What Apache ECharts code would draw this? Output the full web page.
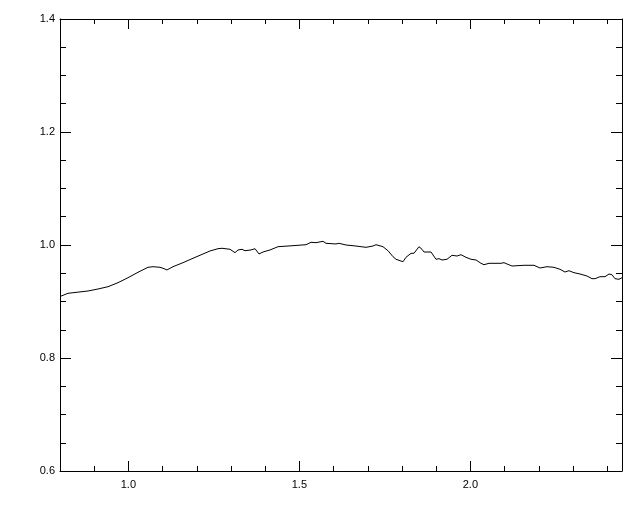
<!DOCTYPE html>
<html>
<head>
<meta charset="utf-8">
<script src="https://cdn.jsdelivr.net/npm/echarts@6/dist/echarts.min.js"></script>
<style>html,body{margin:0;padding:0;background:#fff}#c{width:640px;height:512px}</style>
</head>
<body>
<div id="c"></div>
<script>
const wavelength = [0.8,0.8234,0.8819,0.9111,0.9404,0.9696,0.9988,1.0281,1.0573,1.0719,1.0924,1.1012,1.1129,1.1304,1.1596,1.1889,1.2181,1.2386,1.2620,1.2737,1.2971,1.3117,1.3205,1.3322,1.3409,1.3585,1.3702,1.3819,1.3936,1.4140,1.4374,1.4813,1.5193,1.5339,1.5485,1.5690,1.5778,1.6070,1.6158,1.6363,1.6655,1.6947,1.7152,1.7240,1.7444,1.7591,1.7737,1.7825,1.8029,1.8117,1.8263,1.8351,1.8497,1.8585,1.8643,1.8848,1.8994,1.9082,1.9170,1.9316,1.9462,1.9608,1.9725,1.9871,2.0018,2.0164,2.0310,2.0398,2.0544,2.0895,2.0982,2.1070,2.1216,2.1567,2.1860,2.2035,2.2240,2.2444,2.2620,2.2766,2.2883,2.3029,2.3205,2.3409,2.3556,2.3643,2.3789,2.3936,2.4053,2.4140,2.4228,2.4345,2.4433];
const flux = [0.9088,0.9145,0.9186,0.9221,0.9262,0.9333,0.9421,0.9517,0.9605,0.9616,0.9605,0.9588,0.9558,0.9616,0.9687,0.9765,0.9841,0.9894,0.9935,0.9942,0.9924,0.9864,0.9912,0.9924,0.9899,0.9912,0.9935,0.9841,0.9876,0.9912,0.9970,0.9988,1.0005,1.0048,1.0041,1.0065,1.0030,1.0018,1.0030,1.0000,0.9982,0.9959,0.9982,1.0005,0.9970,0.9899,0.9793,0.9747,0.9704,0.9782,0.9853,0.9853,0.9970,0.9924,0.9876,0.9876,0.9747,0.9758,0.9735,0.9747,0.9818,0.9805,0.9828,0.9782,0.9747,0.9735,0.9676,0.9651,0.9676,0.9676,0.9687,0.9664,0.9628,0.9641,0.9641,0.9593,0.9616,0.9605,0.9570,0.9522,0.9545,0.9510,0.9487,0.9451,0.9404,0.9404,0.9439,0.9439,0.9487,0.9474,0.9404,0.9393,0.9421];
const xMajor = [1.0,1.5,2.0];
const xMinor = [0.9,1.1,1.2,1.3,1.4,1.6,1.7,1.8,1.9,2.1,2.2,2.3,2.4];
const yMajor = [0.6,0.8,1.0,1.2,1.4];
const yMinor = [0.65,0.7,0.75,0.85,0.9,0.95,1.05,1.1,1.15,1.25,1.3,1.35];

const X_MIN = 0.8, X_MAX = 2.4433, Y_MIN = 0.6, Y_MAX = 1.4;
const lab = {color:'#000', fontFamily:'Liberation Sans, DejaVu Sans, sans-serif', fontSize:11};

function xAx(pos, ticks, len, withLabel, withLine){
  return {type:'value', position:pos, min:X_MIN, max:X_MAX,
    axisLine:{show:withLine, onZero:false, lineStyle:{color:'#000', width:1}},
    axisTick:{show:true, inside:true, length:len, customValues:ticks, lineStyle:{color:'#000', width:1}},
    axisLabel: withLabel ? Object.assign({show:true, customValues:ticks, margin:8, formatter:v=>v.toFixed(1)}, lab) : {show:false},
    splitLine:{show:false}};
}
function yAx(pos, ticks, len, withLabel, withLine){
  return {type:'value', position:pos, min:Y_MIN, max:Y_MAX,
    axisLine:{show:withLine, onZero:false, lineStyle:{color:'#000', width:1}},
    axisTick:{show:true, inside:true, length:len, customValues:ticks, lineStyle:{color:'#000', width:1}},
    axisLabel: withLabel ? Object.assign({show:true, customValues:ticks, margin:5, formatter:v=>v.toFixed(1)}, lab) : {show:false},
    splitLine:{show:false}};
}

const chart = echarts.init(document.getElementById('c'), null, {renderer:'canvas'});
chart.setOption({
  animation:false,
  backgroundColor:'#fff',
  grid:{left:60, top:19, right:18, bottom:41, containLabel:false},
  xAxis:[xAx('bottom', xMajor, 10, true, true), xAx('bottom', xMinor, 5, false, false),
         xAx('top', xMajor, 10, false, true), xAx('top', xMinor, 5, false, false)],
  yAxis:[yAx('left', yMajor, 11, true, true), yAx('left', yMinor, 6, false, false),
         yAx('right', yMajor, 11, false, true), yAx('right', yMinor, 6, false, false)],
  series:[{type:'line', xAxisIndex:0, yAxisIndex:0, showSymbol:false, symbol:'none',
    lineStyle:{color:'#000', width:1}, data: wavelength.map((w,i)=>[w, flux[i]])}]
});
</script>
</body>
</html>
